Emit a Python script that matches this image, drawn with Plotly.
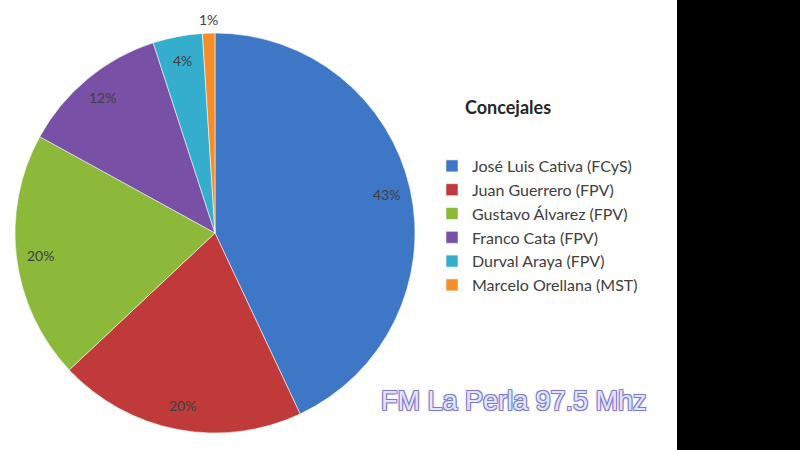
import numpy as np
import plotly.graph_objects as go

candidates = ["José Luis Cativa (FCyS)", "Juan Guerrero (FPV)", "Gustavo Álvarez (FPV)",
              "Franco Cata (FPV)", "Durval Araya (FPV)", "Marcelo Orellana (MST)"]
shares = [43, 20, 20, 12, 4, 1]
share_labels = ["43%", "20%", "20%", "12%", "4%", "1%"]
colors = ["#3D77C6", "#BF3A38", "#8DB93B", "#7850A5", "#35AECD", "#F58E2A"]

W, H = 800, 450


def px(x):
    return x / W


def py(y):
    return 1 - y / H


# pie geometry (screen pixels)
cx, cy, R = 215, 233, 200

fig = go.Figure()
fig.add_trace(go.Pie(
    labels=candidates, values=shares, textinfo="none",
    sort=False, direction="clockwise", rotation=0,
    marker=dict(colors=colors, line=dict(color="rgba(255,255,255,0.55)", width=1)),
    domain=dict(x=[px(cx - R - 1), px(cx + R + 1)], y=[py(cy + R), py(cy - R)]),
    showlegend=True, hoverinfo="label+percent",
))

# percentage labels placed along each slice's mid-angle
vals = np.array(shares, dtype=float)
cum = np.cumsum(vals) / vals.sum()
mid = (cum - vals / vals.sum() / 2) * 2 * np.pi
annotations = []
for i, (lab, a) in enumerate(zip(share_labels, mid)):
    rf = 1.07 if vals[i] / vals.sum() < 0.02 else 0.88
    lx = cx + rf * R * np.sin(a)
    ly = cy - rf * R * np.cos(a)
    annotations.append(dict(text=lab, x=px(lx), y=py(ly), xref="paper", yref="paper",
                            xanchor="center", yanchor="middle", showarrow=False,
                            font=dict(family="Lato", size=14, color="#404040")))

annotations.append(dict(text="<b>Concejales</b>", x=px(463), y=py(107), xref="paper", yref="paper",
                        xanchor="left", yanchor="middle", showarrow=False,
                        font=dict(family="Lato", size=18, color="#262626")))
annotations.append(dict(text="FM La Perla 97.5 Mhz", x=px(514), y=py(401), xref="paper", yref="paper",
                        xanchor="center", yanchor="middle", showarrow=False,
                        font=dict(family="Liberation Sans", size=27, color="#E6E6FB",
                                  shadow="1px 1px 0 #7B7BD6, -1px -1px 0 #7B7BD6, 1px -1px 0 #7B7BD6, "
                                         "-1px 1px 0 #7B7BD6, 0 0 3px #B0B0EE")))

fig.update_layout(
    width=W, height=H,
    margin=dict(l=0, r=0, t=0, b=0),
    paper_bgcolor="white", plot_bgcolor="white",
    legend=dict(x=px(432), y=py(149), xanchor="left", yanchor="top",
                font=dict(family="Lato", size=16, color="#404040"),
                bgcolor="rgba(0,0,0,0)", itemwidth=30),
    annotations=annotations,
    shapes=[dict(type="rect", xref="paper", yref="paper", x0=px(677), x1=1.05, y0=-0.05, y1=1.05,
                 fillcolor="black", line=dict(width=0), layer="above")],
)

fig.write_html("out.html", config={"displayModeBar": False},
               post_script="document.body.style.margin='0';document.body.style.overflow='hidden';")
